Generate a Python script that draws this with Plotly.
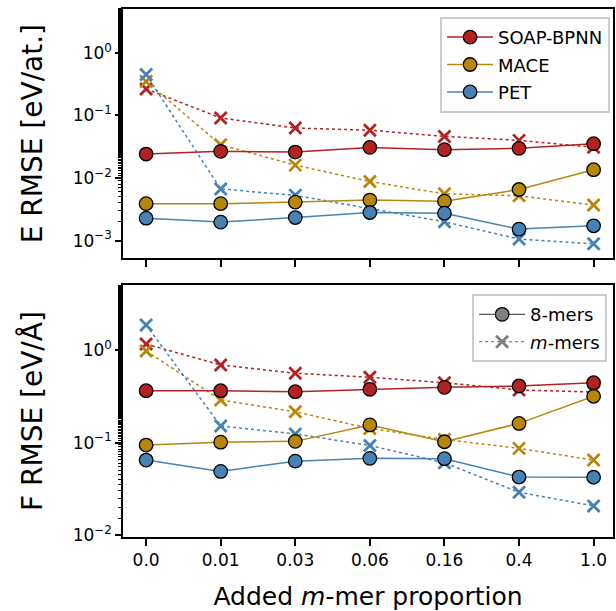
import plotly.graph_objects as go
from plotly.subplots import make_subplots

categories = ["0.0", "0.01", "0.03", "0.06", "0.16", "0.4", "1.0"]
models = ["SOAP-BPNN", "MACE", "PET"]
colors = {"SOAP-BPNN": "#b22222", "MACE": "#b8860b", "PET": "#4682b4"}

# Energy RMSE [eV/at.]
E_8mers = {
    "SOAP-BPNN": [0.0242, 0.0267, 0.026, 0.0309, 0.0284, 0.0298, 0.0354],
    "MACE": [0.0039, 0.0039, 0.00413, 0.00445, 0.00428, 0.00657, 0.0136],
    "PET": [0.00229, 0.00198, 0.00234, 0.00282, 0.00275, 0.00153, 0.00173],
}
E_mmers = {
    "SOAP-BPNN": [0.265, 0.091, 0.063, 0.058, 0.0463, 0.040, 0.031],
    "MACE": [0.35, 0.034, 0.0161, 0.0088, 0.0056, 0.0052, 0.0037],
    "PET": [0.45, 0.0067, 0.0053, 0.0033, 0.0020, 0.00106, 0.00089],
}
# Force RMSE [eV/Å]
F_8mers = {
    "SOAP-BPNN": [0.363, 0.363, 0.354, 0.376, 0.395, 0.408, 0.443],
    "MACE": [0.094, 0.101, 0.103, 0.155, 0.102, 0.161, 0.316],
    "PET": [0.0647, 0.0488, 0.063, 0.0675, 0.067, 0.0424, 0.0422],
}
F_mmers = {
    "SOAP-BPNN": [1.16, 0.689, 0.56, 0.507, 0.443, 0.37, 0.351],
    "MACE": [0.975, 0.288, 0.215, 0.142, 0.108, 0.0865, 0.0647],
    "PET": [1.86, 0.151, 0.124, 0.093, 0.0605, 0.029, 0.0207],
}

E_tickvals = [1, 0.1, 0.01, 0.001]
E_ticktext = ["10<sup>0</sup>", "10<sup>−1</sup>", "10<sup>−2</sup>", "10<sup>−3</sup>"]
F_tickvals = [1, 0.1, 0.01]
F_ticktext = ["10<sup>0</sup>", "10<sup>−1</sup>", "10<sup>−2</sup>"]

FONT = "DejaVu Sans"
fig = make_subplots(rows=2, cols=1, shared_xaxes=False)

def add_panel(row, d8, dm, show_models):
    for m in models:
        fig.add_trace(go.Scatter(
            x=categories, y=dm[m], mode="lines+markers", showlegend=False,
            line=dict(color=colors[m], width=1.5, dash="dot"),
            marker=dict(symbol="x-thin", size=12, color=colors[m],
                        line=dict(color=colors[m], width=2.8)),
        ), row=row, col=1)
    for m in models:
        fig.add_trace(go.Scatter(
            x=categories, y=d8[m], mode="lines+markers", name=m,
            showlegend=show_models, legend="legend", legendgroup=m,
            line=dict(color=colors[m], width=1.5),
            marker=dict(symbol="circle", size=13.5, color=colors[m],
                        line=dict(color="black", width=1.3)),
        ), row=row, col=1)

add_panel(1, E_8mers, E_mmers, True)
add_panel(2, F_8mers, F_mmers, False)

# legend-only entries for the bottom panel
fig.add_trace(go.Scatter(
    x=[None], y=[None], mode="lines+markers", name="8-mers", legend="legend2", legendgroup="g8",
    line=dict(color="#555555", width=1.2),
    marker=dict(symbol="circle", size=13.5, color="#808080", line=dict(color="black", width=1.3)),
), row=2, col=1)
fig.add_trace(go.Scatter(
    x=[None], y=[None], mode="lines+markers", name="<i>m</i>-mers", legend="legend2", legendgroup="gm",
    line=dict(color="#808080", width=1.2, dash="dot"),
    marker=dict(symbol="x-thin", size=12, color="#808080", line=dict(color="#808080", width=2.8)),
), row=2, col=1)

axis_common = dict(showline=True, linecolor="black", linewidth=1.5, mirror=True,
                   ticks="outside", tickcolor="black", tickwidth=1.5, showgrid=False,
                   zeroline=False)

fig.update_xaxes(**axis_common, type="category", categoryorder="array", categoryarray=categories,
                 range=[-0.31, 6.26], ticklen=7,
                 tickfont=dict(family=FONT, size=17, color="black"))
fig.update_xaxes(showticklabels=False, row=1, col=1)
fig.update_xaxes(title=dict(text="Added <i>m</i>-mer proportion", font=dict(family=FONT, size=25, color="black"),
                            standoff=19), row=2, col=1)

minor = dict(ticks="outside", ticklen=3.5, tickwidth=1, tickcolor="black", showgrid=False)
fig.update_yaxes(**axis_common, type="log", ticklen=6, minor=minor,
                 tickfont=dict(family=FONT, size=17, color="black"))
fig.update_yaxes(range=[-3.28, 0.70], tickvals=E_tickvals, ticktext=E_ticktext,
                 title=dict(text="E RMSE [eV/at.]", font=dict(family=FONT, size=28, color="black"), standoff=22),
                 domain=[0.528, 1.0], row=1, col=1)
fig.update_yaxes(range=[-2.02, 0.70], tickvals=F_tickvals, ticktext=F_ticktext,
                 title=dict(text="F RMSE [eV/Å]", font=dict(family=FONT, size=28, color="black"), standoff=22),
                 domain=[0.0, 0.477], row=2, col=1)

legend_common = dict(bgcolor="white", bordercolor="#cccccc", borderwidth=2,
                     font=dict(family=FONT, size=18, color="black"), itemwidth=46,
                     xanchor="right", yanchor="top", tracegroupgap=1)
fig.update_layout(
    width=616, height=611,
    margin=dict(l=123, r=1, t=9, b=74),
    plot_bgcolor="white", paper_bgcolor="white",
    font=dict(family=FONT, color="black"),
    legend=dict(**legend_common, x=0.994, y=0.985),
    legend2=dict(**legend_common, x=0.988, y=0.460),
)

fig.write_html("out.html")
